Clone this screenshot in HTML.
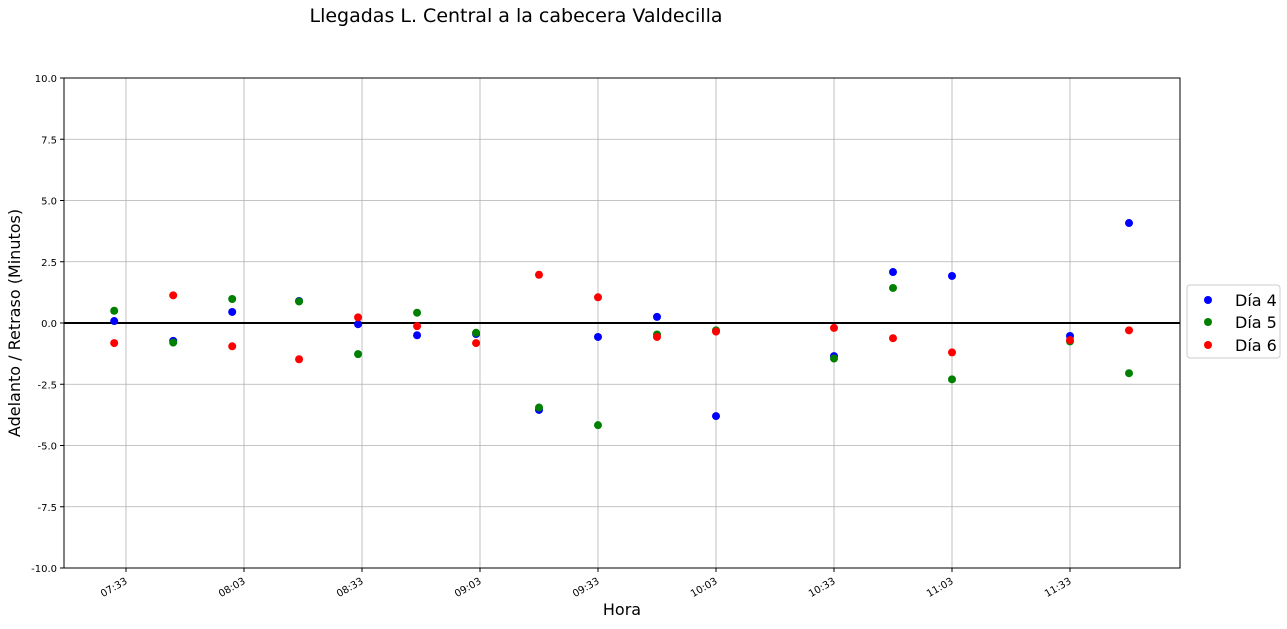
<!DOCTYPE html>
<html><head><meta charset="utf-8"><style>
body{margin:0;background:#fff;font-family:"Liberation Sans","DejaVu Sans",sans-serif;}
svg text{font-family:"DejaVu Sans","Liberation Sans",sans-serif;}
</style></head><body>
<svg id="chart" width="1287" height="624" xmlns="http://www.w3.org/2000/svg">
<text x="516" y="22" font-size="19" text-anchor="middle">Llegadas L. Central a la cabecera Valdecilla</text>
<g id="grid"></g>
<g id="ticks"></g>
<line x1="64" x2="1180" y1="323" y2="323" stroke="#000" stroke-width="2"/>
<g id="pts"></g>
<rect x="64" y="78" width="1116" height="490" fill="none" stroke="#000" stroke-width="1"/>
<text x="622" y="615" font-size="16" text-anchor="middle">Hora</text>
<text transform="translate(20,323) rotate(-90)" font-size="16" text-anchor="middle">Adelanto / Retraso (Minutos)</text>
<g>
<rect x="1187" y="285" width="93" height="73" fill="#fff" stroke="#ccc" rx="3"/>
<circle cx="1208" cy="300" r="4" fill="#0000ff"/><text x="1235" y="306" font-size="16">Día 4</text>
<circle cx="1208" cy="322" r="4" fill="#008000"/><text x="1235" y="328" font-size="16">Día 5</text>
<circle cx="1208" cy="345" r="4" fill="#ff0000"/><text x="1235" y="351" font-size="16">Día 6</text>
</g>
</svg>
<script>
const times=["07:30","07:45","08:00","08:17","08:32","08:47","09:02","09:18","09:33","09:48","10:03","10:33","10:48","11:03","11:33","11:48"];
const dia4=[0.08,-0.73,0.45,0.9,-0.05,-0.5,-0.45,-3.55,-0.57,0.25,-3.8,-1.35,2.08,1.92,-0.53,4.08];
const dia5=[0.5,-0.8,0.98,0.88,-1.27,0.42,-0.4,-3.45,-4.17,-0.47,-0.3,-1.45,1.43,-2.3,-0.75,-2.05];
const dia6=[-0.82,1.13,-0.95,-1.48,0.23,-0.13,-0.82,1.97,1.05,-0.57,-0.35,-0.2,-0.62,-1.2,-0.7,-0.3];
const xTicks=["07:33","08:03","08:33","09:03","09:33","10:03","10:33","11:03","11:33"];
const yTicks=[-10,-7.5,-5,-2.5,0,2.5,5,7.5,10];
const NS="http://www.w3.org/2000/svg";
function mins(t){const p=t.split(":");return +p[0]*60+ +p[1];}
function xs(t){return 126+(mins(t)-mins("07:33"))*118/30;}
function ys(v){return 323-v*24.5;}
function mk(tag,attrs,parent){const e=document.createElementNS(NS,tag);for(const k in attrs)e.setAttribute(k,attrs[k]);parent.appendChild(e);return e;}
const grid=document.getElementById("grid"),ticks=document.getElementById("ticks"),pts=document.getElementById("pts");
yTicks.forEach(v=>{const y=ys(v);
 const l=mk("line",{x1:64,x2:1180,y1:y,y2:y,stroke:"#b0b0b0","stroke-width":0.8},grid);
 
 
 mk("line",{x1:60,x2:64,y1:y,y2:y,stroke:"#000"},ticks);
 const t=mk("text",{x:57,y:y+4,"font-size":10,"text-anchor":"end"},ticks);t.textContent=v.toFixed(1);
 
 
});
xTicks.forEach(s=>{const x=xs(s);
 const l=mk("line",{x1:x,x2:x,y1:78,y2:568,stroke:"#b0b0b0","stroke-width":0.8},grid);
 
 
 mk("line",{x1:x,x2:x,y1:568,y2:572,stroke:"#000"},ticks);
 const t=mk("text",{transform:`translate(${x+2},${583}) rotate(-30)`,"font-size":10,"text-anchor":"end"},ticks);t.textContent=s;
 
 
});
[[dia4,"#0000ff","dia4"],[dia5,"#008000","dia5"],[dia6,"#ff0000","dia6"]].forEach(([arr,c,n])=>{
 arr.forEach((v,i)=>{const p=mk("circle",{cx:xs(times[i]),cy:ys(v),r:4,fill:c},pts);
  
  
 });
});
</script>
</body></html>
